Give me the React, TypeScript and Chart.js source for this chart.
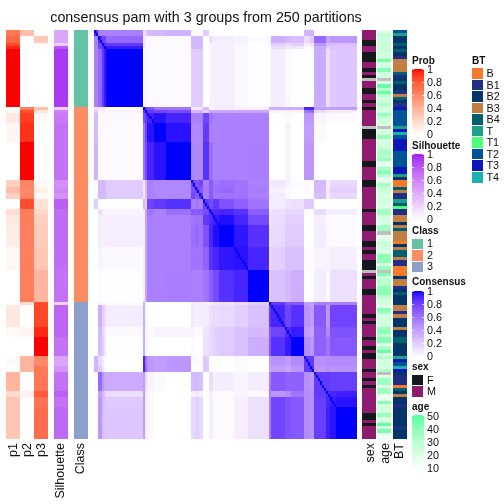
import React, { useEffect, useRef } from "react";
import { Chart, registerables, BarElement } from "chart.js";

Chart.register(...registerables);

// ---------- data ----------
const sampleCount = 128;
const groupStarts = [0,2,4,5,6,24,25,26,29,35,47,49,51,53,56,58,61,68,75,85,86,93,96,102,105,107,113,115,118,128];
// upper triangle of the consensus matrix, one row per group of samples
const consensus: number[][] = [
  [.9,.55,.55,.55,.55,.12,.2,.3,.3,.33,.02,.02,.02,.22,0,0,0,0,0,0,0,0,0,.33,.33,.02,.02,0,0],
  [.9,.8,.8,.65,.1,.05,.03,.03,.02,.3,.3,.3,0,.14,.08,.08,.05,.02,.05,.35,.3,.28,.15,.22,.65,.4,.45,.45],
  [1,.9,.85,.1,.05,.02,.02,.02,.3,.3,.3,0,.06,.06,.06,.04,.01,.03,.2,.15,.2,.08,.12,.45,.3,.28,.28],
  [1,.95,.08,.04,.02,.02,.02,.3,.3,.3,0,.05,.07,.07,.03,.01,.02,.15,.1,.12,.03,.05,.38,.22,.25,.25],
  [1,0,.05,.03,.02,.02,.22,.22,.22,0,.05,.07,.07,.03,.01,.02,.08,.03,.01,0,0,.36,.14,.23,.24],
  [1,.85,.75,.6,.6,.1,.1,.1,.3,.07,.07,.07,.07,.07,.35,.35,.35,.35,.92,.92,.42,.42,.42,.42],
  [1,.85,.8,.78,.3,.3,.3,.2,.38,.38,.38,.38,.38,.05,.05,.05,.05,.6,.65,.16,.1,.08,.08],
  [.92,.97,.92,.55,.55,.55,.8,.6,.55,.55,.55,.55,0,0,.02,0,.45,.45,.05,.02,.02,.02],
  [1,.97,.52,.52,.52,.85,.55,.55,.55,.55,.55,0,0,.05,0,.42,.42,.02,0,0,0],
  [1,.52,.52,.52,.88,.62,.55,.55,.55,.56,0,0,.05,0,.45,.45,0,0,0,0],
  [.8,.75,.8,.55,.72,.6,.62,.6,.55,.08,.1,.05,.02,.02,0,.3,.07,.17,.17],
  [.8,.72,.58,.7,.62,.65,.6,.56,.05,.06,.03,0,.03,0,.3,.1,.2,.2],
  [.85,.55,.72,.6,.6,.6,.55,.1,.08,.03,0,0,0,.28,.07,.17,.17],
  [.85,.78,.85,.75,.68,.6,.05,.08,.12,.13,.23,.23,0,0,0,0],
  [.9,.9,.92,.88,.7,.08,.14,.17,.17,.02,0,.15,.06,.08,.08],
  [.95,.98,.92,.78,.1,.15,.2,.2,0,0,.07,.03,.02,.02],
  [1,.96,.88,.12,.16,.22,.22,0,0,.08,.03,.02,.02],
  [.97,.92,.15,.2,.27,.27,.02,.02,.05,.05,.07,.07],
  [1,.2,.27,.3,.35,0,.01,.08,.03,.13,.13],
  [1,.85,.72,.72,.42,.4,.55,.55,.55,.55],
  [.92,.8,.88,.47,.42,.72,.45,.8,.8],
  [.9,.95,.42,.38,.68,.5,.75,.75],
  [1,.5,.45,.68,.6,.72,.72],
  [.85,.85,.48,.5,.5,.5],
  [.9,.45,.48,.47,.47],
  [.85,.85,.83,.83],
  [.9,.92,.94],
  [.95,.97],
  [1],
];
const probP1 = [.68,.75,.85,.95,1,0,.03,.12,.05,0,.25,.35,.25,0,.18,.12,.1,.04,0,0,.12,.03,0,.03,0,.38,.2,.3,.3];
const probP2 = [.35,0,0,0,0,.65,.85,.9,.93,1,.62,.6,.62,.85,.65,.65,.65,.65,.65,.2,0,.05,0,.38,.38,0,.07,0,0];
const probP3 = [0,.28,.03,.02,0,.33,.15,.03,0,0,.03,.08,.03,.15,.2,.25,.27,.3,.38,.85,.87,.95,1,.6,.68,.68,.8,.7,.73];
const silhouette = [.45,.45,.25,.8,.93,.25,.62,.66,.7,.7,.55,.6,.55,.78,.72,.72,.72,.72,.7,.2,.76,.76,.7,.45,.52,.7,.78,.7,.74];
const classOf = [1,1,1,1,1,2,2,2,2,2,2,2,2,2,2,2,2,2,2,3,3,3,3,3,3,3,3,3,3];
const sexF = [3,4,7,8,9,12,14,18,19,22,24,31,32,33,41,42,47,48,56,61,62,66,67,69,72,73,74,77,81,82,89,91,96,99,101,102,106,109,111,120,121,123];
const sexNA = [15,30,75];
const age = [18,28,25,25,25,25,27,23,24,44,23,22,42,24,23,null,20,48,28,48,30,24,25,32,23,23,38,28,24,22,null,23,23,38,22,22,22,30,34,30,38,20,18,34,42,30,18,18,35,25,25,22,22,24,20,20,36,36,23,22,20,36,36,null,18,18,26,26,22,22,40,40,40,20,38,null,42,26,30,30,40,40,40,30,24,24,18,42,35,23,23,23,23,38,40,28,42,42,18,32,48,22,32,23,23,23,32,null,20,36,36,18,36,36,15,15,42,22,23,22,38,23,23,48,22,44,15,15];
const bt = "T2 T B2 B2 B4 B2 B4 B2 B1 B3 B3 B3 B3 B4 B1 B2 B4 B2 B2 B1 B3 B4 B2 B1 T3 T2 T2 T2 T2 T2 T T3 T4 T2 T3 T3 T3 T3 T2 T2 T2 T2 T2 T3 T3 T B2 B B B4 B3 B1 B1 T B4 T1 B1 B1 B3 B3 B2 B3 B4 B3 B3 B3 B B2 B3 B4 B4 B3 B1 B1 B B B B2 B3 B3 B1 B2 B4 B2 B2 B2 B3 B3 B1 B3 B2 B2 B2 B3 B2 B2 B4 B4 B2 B2 B2 B2 T T3 T2 T4 T3 B2 B1 B1 B1 B B4 B2 B3 B2 B2 B1 B2 B2 B2 B2 B2 B2 B1 B2 B2 B2".split(" ");
const btLevels = ["B","B1","B2","B3","B4","T","T1","T2","T3","T4"];
const btColors = ["#F37B2B","#1F2F85","#03356A","#C27F45","#006070","#1EA087","#4CFF78","#005397","#0D16BA","#1AAFB0"];
const classLevels = ["1","2","3"];
const classColors = ["#66C2A5","#FC8D62","#8DA0CB"];
const sexLevels = ["F","M"];
const sexColors = ["#15181A","#8E1B6E"];
const unitTicks = ["1","0.8","0.6","0.4","0.2","0"];
const ageTicks = ["50","40","30","20","10"];
const title = "consensus pam with 3 groups from 250 partitions";
const bottomLabels = [["p1",14],["p2",28],["p3",42],["Silhouette",61],["Class",81],["sex",371],["age",385.5],["BT",400]] as [string, number][];

// ---------- layout ----------
const SIZE = 504, LEFT = 94, RIGHT = 357, TOP = 30, BOTTOM = 439;
const ux = (RIGHT - LEFT) / sampleCount, uy = (BOTTOM - TOP) / sampleCount;
const toX = (px: number) => (px - LEFT) / ux;
const toY = (px: number) => (px - TOP) / uy;
const NA = "#BEBEBE";

// ---------- colour ramps (white to a top colour, through LAB) ----------
const f = (t: number) => (t > 0.008856 ? Math.cbrt(t) : 7.787 * t + 16 / 116);
const fi = (t: number) => (t > 0.2069 ? t * t * t : (t - 16 / 116) / 7.787);
const lin = (c: number) => (c <= 0.04045 ? c / 12.92 : Math.pow((c + 0.055) / 1.055, 2.4));
const gam = (c: number) => 255 * Math.max(0, Math.min(1, c <= 0.0031308 ? 12.92 * c : 1.055 * Math.pow(c, 1 / 2.4) - 0.055));
function toLab(hex: string) {
  const n = parseInt(hex.slice(1), 16);
  const r = lin((n >> 16) / 255), g = lin(((n >> 8) & 255) / 255), b = lin((n & 255) / 255);
  const X = f((0.4124 * r + 0.3576 * g + 0.1805 * b) / 0.95047);
  const Y = f(0.2126 * r + 0.7152 * g + 0.0722 * b);
  const Z = f((0.0193 * r + 0.1192 * g + 0.9505 * b) / 1.08883);
  return [116 * Y - 16, 500 * (X - Y), 200 * (Y - Z)];
}
function ramp(hex: string) {
  const top = toLab(hex);
  return (t: number) => {
    const L = 100 + (top[0] - 100) * t, a = top[1] * t, b2 = top[2] * t;
    const Y = (L + 16) / 116, X = a / 500 + Y, Z = Y - b2 / 200;
    const x = fi(X) * 0.95047, y = fi(Y), z = fi(Z) * 1.08883;
    const r = gam(3.2406 * x - 1.5372 * y - 0.4986 * z);
    const g = gam(-0.9689 * x + 1.8758 * y + 0.0415 * z);
    const b = gam(0.0557 * x - 0.204 * y + 1.057 * z);
    return `rgb(${Math.round(r)},${Math.round(g)},${Math.round(b)})`;
  };
}
const blue = ramp("#0000FF"), red = ramp("#FF0000"), purple = ramp("#A020F0"), green = ramp("#54FF9F");
const ageColor = (v: number) => green(Math.max(0, (v - 10) / 40));

// Each bar is a cell with its own left and right edge on the x scale.
BarElement.prototype.draw = function (this: any, ctx: CanvasRenderingContext2D) {
  const c = this.$context, raw = c.raw, xs = c.chart.scales.x, ys = c.chart.scales.y;
  const l = Math.round(xs.getPixelForValue(raw.x0)), r = Math.round(xs.getPixelForValue(raw.x1));
  const t = Math.round(ys.getPixelForValue(raw.y[0])), b = Math.round(ys.getPixelForValue(raw.y[1]));
  ctx.fillStyle = this.options.backgroundColor;
  ctx.fillRect(l, t, r - l, b - t);
};

type Cell = { x: number; y: [number, number]; x0: number; x1: number };
const cell = (x0: number, x1: number, y0: number, y1: number): Cell => ({ x: (x0 + x1) / 2, y: [y0, y1], x0, x1 });

function dataset(label: string, cells: Cell[], colors: string[]) {
  return { label, data: cells, backgroundColor: colors, borderWidth: 0 };
}

function buildDatasets() {
  const out: any[] = [];
  // diagonal: every sample agrees with itself
  const dC: Cell[] = [], dK: string[] = [];
  for (let i = 0; i < sampleCount; i++) { dC.push(cell(i, i + 1, i, i + 1)); dK.push(blue(1)); }
  out.push(dataset("diagonal", dC, dK));
  // matrix
  const mC: Cell[] = [], mK: string[] = [];
  consensus.forEach((row, i) => row.forEach((v, k) => {
    const j = i + k;
    mC.push(cell(groupStarts[j], groupStarts[j + 1], groupStarts[i], groupStarts[i + 1])); mK.push(blue(v));
    if (j !== i) { mC.push(cell(groupStarts[i], groupStarts[i + 1], groupStarts[j], groupStarts[j + 1])); mK.push(blue(v)); }
  }));
  out.push(dataset("Consensus", mC, mK));
  // left annotation columns
  const col = (label: string, a: number, b: number, colorOf: (i: number) => string) => {
    const cs = groupStarts.slice(0, -1).map((s, i) => cell(toX(a), toX(b), s, groupStarts[i + 1]));
    out.push(dataset(label, cs, cs.map((_, i) => colorOf(i))));
  };
  col("p1", 6, 20, (i) => red(probP1[i]));
  col("p2", 20, 34, (i) => red(probP2[i]));
  col("p3", 34, 48, (i) => red(probP3[i]));
  col("Silhouette", 54, 68, (i) => purple(silhouette[i]));
  col("Class", 74, 88, (i) => classColors[classOf[i] - 1]);
  // right annotation columns
  const perSample = (label: string, a: number, b: number, colorOf: (i: number) => string) => {
    const cs: Cell[] = [], ks: string[] = [];
    for (let i = 0; i < sampleCount; i++) { cs.push(cell(toX(a), toX(b), i, i + 1)); ks.push(colorOf(i)); }
    out.push(dataset(label, cs, ks));
  };
  perSample("sex", 362, 376, (i) => (sexNA.includes(i) ? NA : sexF.includes(i) ? sexColors[0] : sexColors[1]));
  perSample("age", 377, 391, (i) => (age[i] == null ? NA : ageColor(age[i] as number)));
  perSample("BT", 393, 407, (i) => btColors[btLevels.indexOf(bt[i])]);
  // legend colour bars
  const bar = (label: string, y0: number, y1: number, colorOf: (t: number) => string) => {
    const cs: Cell[] = [], ks: string[] = [];
    for (let p = y0; p < y1; p++) { cs.push(cell(toX(412), toX(424), toY(p), toY(p + 1))); ks.push(colorOf(1 - (p - y0) / (y1 - y0))); }
    out.push(dataset(label + " legend", cs, ks));
  };
  bar("Prob", 69, 134, red);
  bar("Silhouette", 154, 220, purple);
  bar("Consensus", 291, 357, blue);
  bar("age", 415, 469, (t) => green(t));
  // legend swatches
  const swatches = (label: string, x0: number, y0: number, step: number, colors: string[]) => {
    const cs = colors.map((_, i) => cell(toX(x0), toX(x0 + 11), toY(y0 + i * step), toY(y0 + i * step + step - 1)));
    out.push(dataset(label + " swatches", cs, colors));
  };
  swatches("Class", 412, 239, 11.3, classColors);
  swatches("sex", 412, 375, 11.3, sexColors);
  swatches("BT", 472, 68, 11.55, btColors);
  return out;
}

const textPlugin = {
  id: "texts",
  afterDraw(chart: any) {
    const ctx: CanvasRenderingContext2D = chart.ctx;
    ctx.save();
    ctx.fillStyle = "#111";
    ctx.textBaseline = "middle";
    const text = (s: string, x: number, y: number, font: string, align: CanvasTextAlign = "left") => {
      ctx.font = font; ctx.textAlign = align; ctx.fillText(s, x, y);
    };
    const base = "'Liberation Sans'";
    text(title, 206, 18, `14.3px ${base}`, "center");
    const L = `10.8px ${base}`, B = `bold 10px ${base}`;
    text("Prob", 412, 61, B);
    text("Silhouette", 412, 146, B);
    text("Class", 412, 231, B);
    text("Consensus", 412, 282, B);
    text("sex", 412, 367, B);
    text("age", 412, 407, B);
    text("BT", 472, 61, B);
    const scaleLabels = (labels: string[], y0: number, step: number) =>
      labels.forEach((s, i) => text(s, 427, y0 + i * step, L));
    scaleLabels(unitTicks, 70, 13);
    scaleLabels(unitTicks, 155, 13);
    scaleLabels(unitTicks, 292, 13);
    scaleLabels(ageTicks, 417, 13);
    classLevels.forEach((s, i) => text(s, 427, 244.5 + i * 11.3, L));
    sexLevels.forEach((s, i) => text(s, 427, 381 + i * 11.3, L));
    btLevels.forEach((s, i) => text(s, 486.5, 74 + i * 11.55, L));
    // tick notches on colour bars
    ctx.fillStyle = "rgba(255,255,255,0.7)";
    const notches = (y0: number, step: number, n: number) => {
      for (let i = 0; i < n; i++) {
        ctx.fillRect(412, y0 + i * step, 2, 1);
        ctx.fillRect(422, y0 + i * step, 2, 1);
      }
    };
    notches(69, 13, 6); notches(154, 13, 6); notches(291, 13, 6); notches(415, 13, 5);
    // rotated column names
    ctx.fillStyle = "#111";
    bottomLabels.forEach(([s, x]) => {
      ctx.save();
      ctx.translate(x, 443);
      ctx.rotate(-Math.PI / 2);
      ctx.font = `12.5px ${base}`;
      ctx.textAlign = "right";
      ctx.textBaseline = "middle";
      ctx.fillText(s, 0, 0);
      ctx.restore();
    });
    ctx.restore();
  },
};

export default function App() {
  const ref = useRef<HTMLCanvasElement>(null);
  useEffect(() => {
    document.body.style.margin = "0";
    const chart = new Chart(ref.current!, {
      type: "bar",
      data: { datasets: buildDatasets() },
      options: {
        animation: false,
        responsive: false,
        devicePixelRatio: 1,
        layout: { padding: 0 },
        plugins: { legend: { display: false }, tooltip: { enabled: false } },
        events: [],
        scales: {
          x: { type: "linear", display: false, offset: false, min: toX(0), max: toX(SIZE) },
          y: { type: "linear", display: false, reverse: true, min: toY(0), max: toY(SIZE), beginAtZero: false },
        },
      },
      plugins: [textPlugin],
    } as any);
    return () => chart.destroy();
  }, []);
  return <canvas ref={ref} width={SIZE} height={SIZE} style={{ display: "block", width: SIZE, height: SIZE }} />;
}
